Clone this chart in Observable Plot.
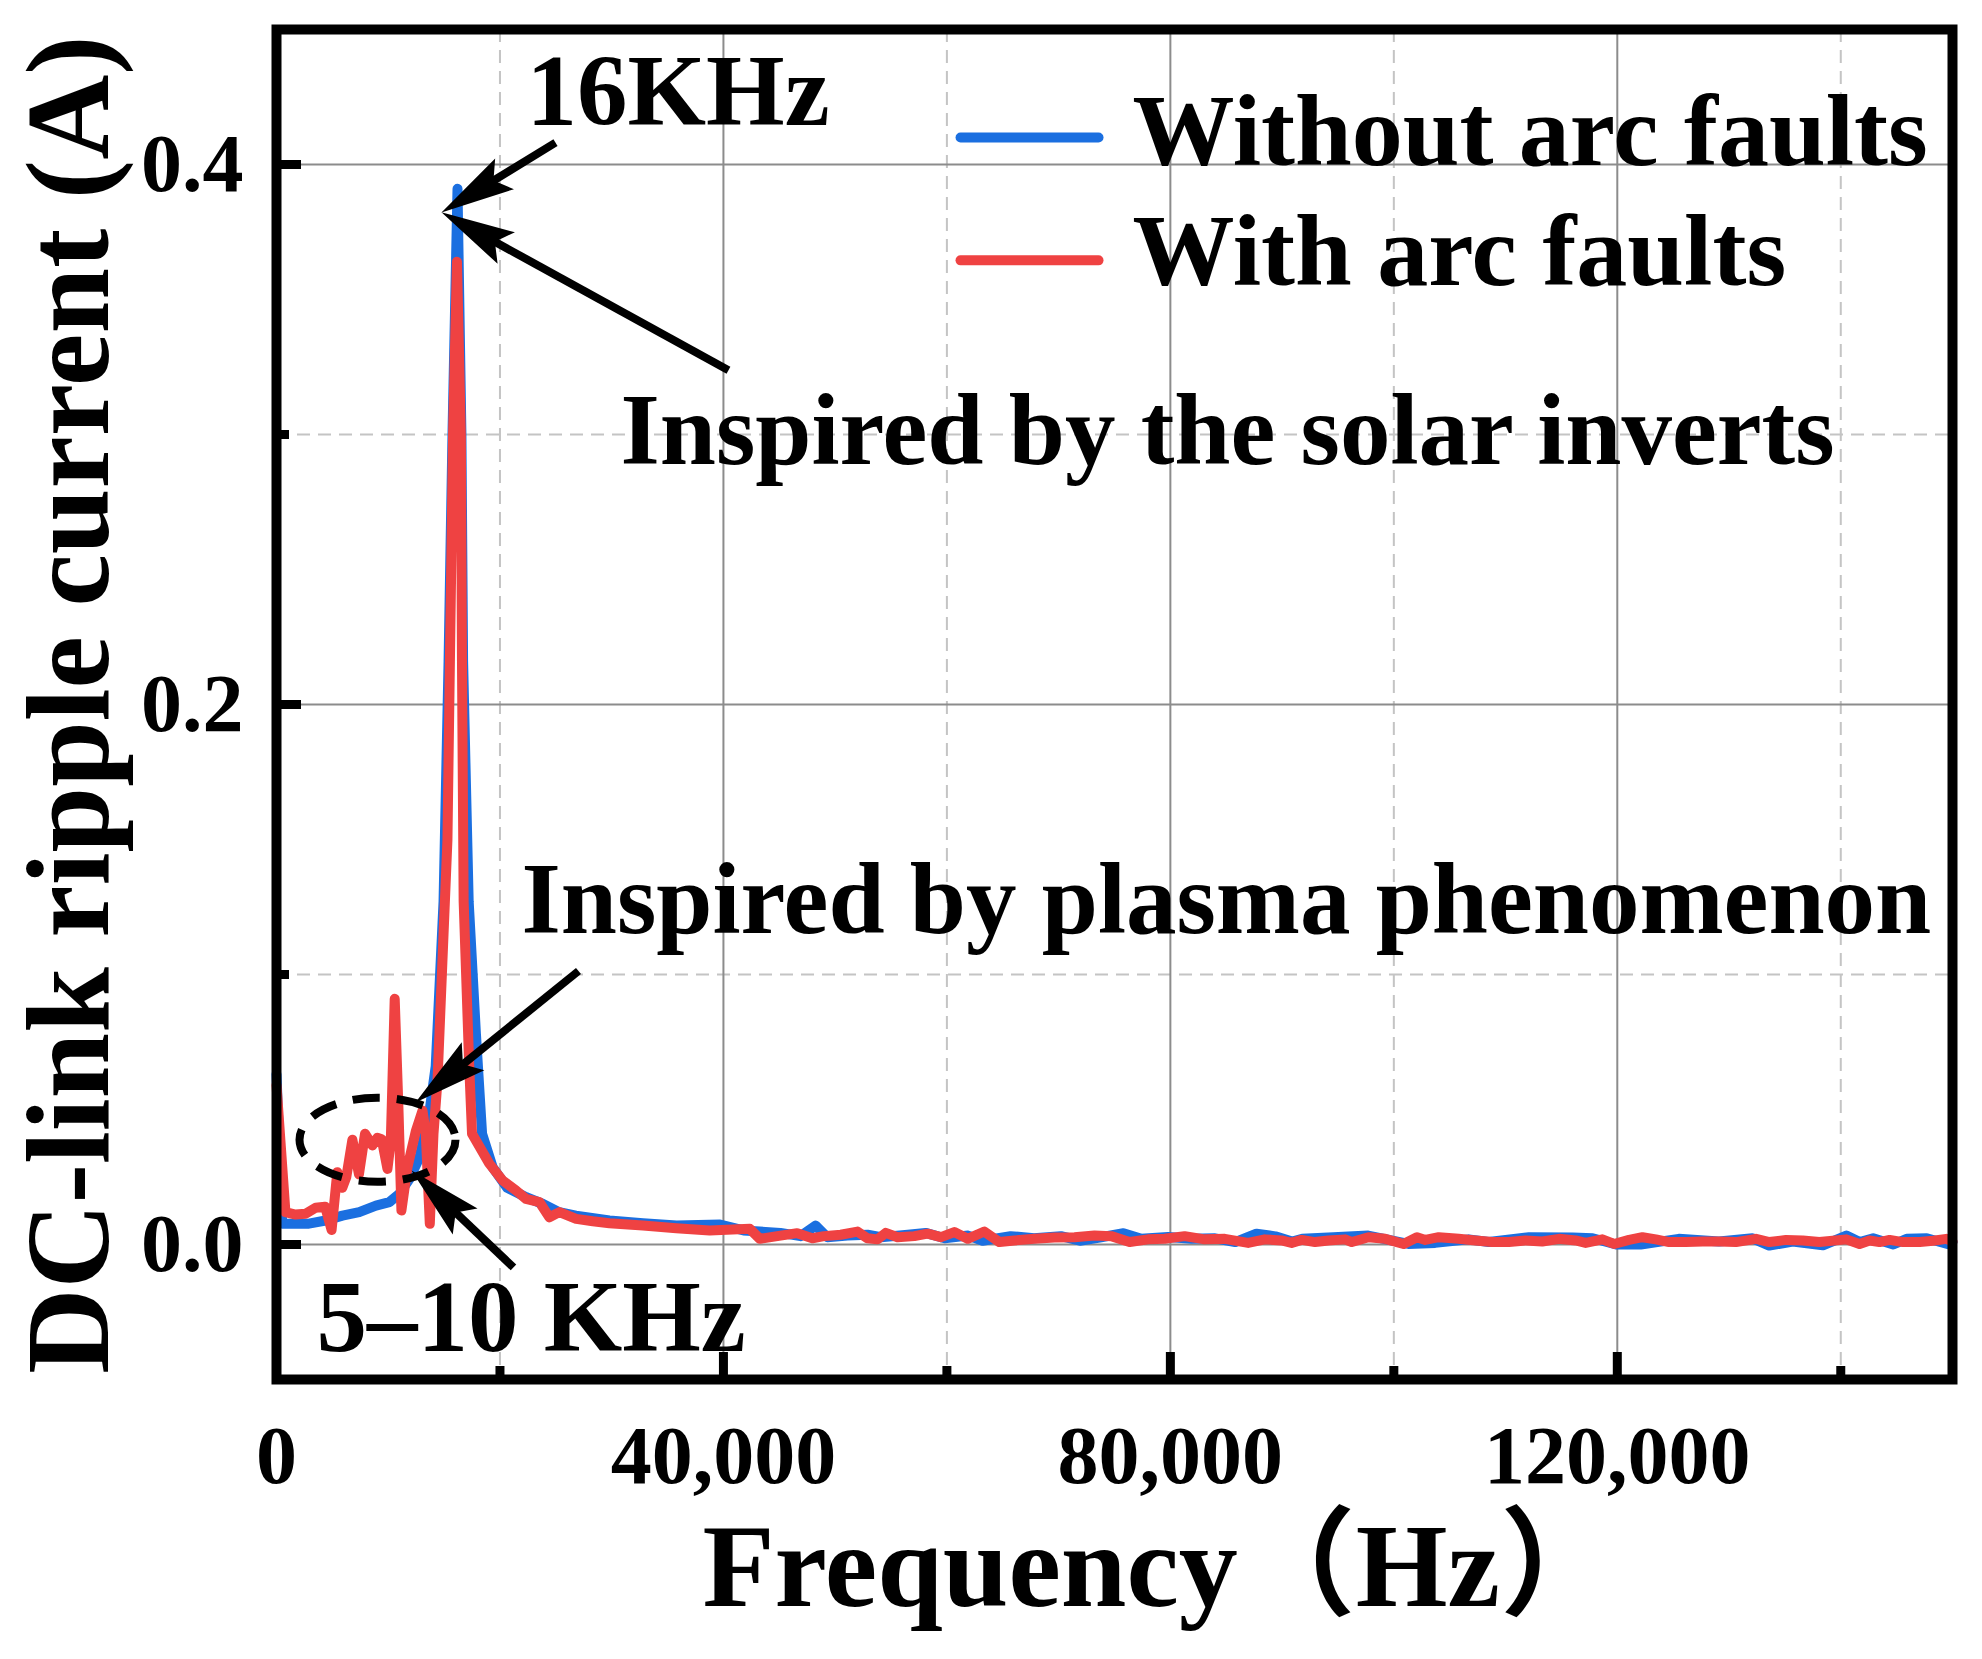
<!DOCTYPE html>
<html>
<head>
<meta charset="utf-8">
<script src="https://cdn.jsdelivr.net/npm/d3@7"></script>
<script src="https://cdn.jsdelivr.net/npm/@observablehq/plot@0.6"></script>
<style>
  body { margin: 0; background: #fff; }
  #chart svg { display: block; }
</style>
</head>
<body>
<div id="chart"></div>
<script>

// spectrum (Hz, A)
const freqBlue = [0, 510, 2900, 4400, 5900, 7400, 8900, 10100, 11000, 11900,
  12800, 13650, 14250, 14950, 15400, 15750, 16200, 16550, 16700, 17200,
  17850, 18400, 19350, 20650, 22350, 23850, 25300, 26800, 29800, 32800,
  35800, 39700, 41800, 45100, 46900, 48250, 49300, 51100, 52900, 54100,
  56500, 58100, 59800, 61900, 63200, 65700, 67800, 70200, 71900, 73800,
  75800, 77400, 79800, 81900, 84000, 85800, 87700, 89400, 90900, 91800,
  94600, 97700, 101300, 103700, 106700, 108500, 112100, 116000, 117800, 119900,
  122100, 125500, 129100, 132100, 133600, 135700, 138400, 140500, 141700, 142900,
  144700, 145900, 147700, 149700, 150000]
const ampBlue = [0.063, 0.0077, 0.0077, 0.0089, 0.0107, 0.012, 0.0144, 0.0157, 0.0188, 0.0243,
  0.0323, 0.048, 0.066, 0.127, 0.216, 0.300, 0.391, 0.300, 0.216, 0.127,
  0.078, 0.041, 0.0286, 0.021, 0.0175, 0.015, 0.012, 0.0107, 0.0089, 0.0079,
  0.007, 0.0074, 0.0052, 0.0043, 0.0031, 0.0070, 0.0027, 0.0033, 0.0036, 0.0027,
  0.0036, 0.0043, 0.0023, 0.0033, 0.0014, 0.0031, 0.0023, 0.0031, 0.0014, 0.0027,
  0.0042, 0.0021, 0.0028, 0.0021, 0.0023, 0.0009, 0.0040, 0.0030, 0.0011, 0.0021,
  0.0027, 0.0033, 0.0002, 0.0006, 0.0019, 0.0009, 0.0027, 0.0026, 0.0023, 0.0000,
  0.0000, 0.0021, 0.0011, 0.0023, -0.0004, 0.0011, -0.0003, 0.0033, 0.0009, 0.0023,
  0.0000, 0.0021, 0.0023, 0.0000, 0.0009]

const freqRed = [0, 800, 1700, 2600, 3500, 4350, 4930, 5440, 5890, 6250,
  6790, 7380, 7920, 8580, 9030, 9420, 9930, 10230, 10580, 10910,
  11180, 11720, 12470, 13070, 13360, 13720, 14050, 14410, 14850, 15300,
  15520, 15800, 16150, 16500, 16600, 16750, 17250, 17500, 19040, 20240,
  21440, 22330, 23530, 24420, 25320, 26820, 28310, 29800, 32800, 35790,
  38770, 42360, 43260, 45110, 46600, 47960, 49000, 50500, 52000, 52890,
  53790, 54530, 55580, 57080, 58270, 59470, 60660, 61860, 63350, 64700,
  66040, 67830, 69620, 71420, 73210, 74710, 76350, 78000, 79490, 81280,
  83070, 84870, 86960, 88450, 89950, 90850, 91750, 92950, 94150, 95640,
  96240, 97730, 99230, 100870, 102070, 102820, 104020, 105810, 107300, 108800,
  110290, 111790, 113280, 114780, 116270, 117170, 118660, 119710, 121050, 122250,
  123450, 124640, 126130, 127630, 129120, 130620, 132410, 133610, 135100, 136600,
  138090, 140490, 141680, 142580, 143470, 144370, 145570, 147060, 148260, 149450,
  150000]
const ampRed = [0.059, 0.012, 0.0111, 0.0114, 0.0136, 0.014, 0.0054, 0.0268, 0.021, 0.025,
  0.0388, 0.026, 0.041, 0.0367, 0.0395, 0.039, 0.028, 0.0385, 0.091, 0.051,
  0.0126, 0.0286, 0.042, 0.0496, 0.041, 0.0077, 0.041, 0.0607, 0.105, 0.15,
  0.216, 0.300, 0.364, 0.300, 0.216, 0.127, 0.066, 0.041, 0.030, 0.0237,
  0.020, 0.0169, 0.0157, 0.0101, 0.012, 0.0095, 0.0086, 0.0079, 0.007, 0.006,
  0.0052, 0.0058, 0.0021, 0.0033, 0.0042, 0.0023, 0.0031, 0.0036, 0.0048, 0.0023,
  0.0019, 0.0043, 0.0027, 0.0031, 0.0040, 0.0027, 0.0046, 0.0021, 0.0048, 0.0009,
  0.0015, 0.0021, 0.0026, 0.0027, 0.0033, 0.0031, 0.0009, 0.0019, 0.0021, 0.0031,
  0.0019, 0.0021, 0.0006, 0.0019, 0.0015, 0.0006, 0.0017, 0.0009, 0.0015, 0.0019,
  0.0009, 0.0027, 0.0021, 0.0002, 0.0027, 0.0017, 0.0027, 0.0021, 0.0015, 0.0009,
  0.0009, 0.0015, 0.0011, 0.0021, 0.0015, 0.0006, 0.0019, 0.0002, 0.0017, 0.0027,
  0.0019, 0.0009, 0.0009, 0.0011, 0.0011, 0.0009, 0.0021, 0.0009, 0.0017, 0.0015,
  0.0009, 0.0019, 0.0002, 0.0015, 0.0009, 0.0017, 0.0009, 0.0009, 0.0014, 0.0021,
  0.0011]

const seriesNames = ["Without arc faults", "With arc faults"]
const seriesColors = ["#1b6fe0", "#ef4242"]

const xMajor = [0, 40000, 80000, 120000]
const xMinor = [20000, 60000, 100000, 140000]
const yMajor = [0, 0.2, 0.4]
const yMinor = [0.1, 0.3]

// annotations, in data units
const noteText = ["16KHz", "Inspired by the solar inverts", "Inspired by plasma phenomenon", "5–10 KHz"]
const noteX = [22380, 30790, 21930, 3580]
const noteY = [0.4266, 0.3009, 0.1272, -0.0274]

const arrowX1 = [24970, 40450, 27030, 21210]
const arrowY1 = [0.4081, 0.3238, 0.1013, -0.0085]
const arrowX2 = [16290, 16330, 13830, 13380]
const arrowY2 = [0.3861, 0.3787, 0.0572, 0.0223]

const ellipseX = [9040]
const ellipseY = [0.0388]

const legendX1 = 61220, legendX2 = 73570, legendTextX = 76610
const legendLineY = [0.410, 0.3645]
const legendTextY = [0.412, 0.3673]

const blue = freqBlue.map((f, i) => ({f, a: ampBlue[i]}))
const red = freqRed.map((f, i) => ({f, a: ampRed[i]}))
const notes = noteText.map((t, i) => ({t, x: noteX[i], y: noteY[i]}))
const arrows = arrowX1.map((x1, i) => ({x1, y1: arrowY1[i], x2: arrowX2[i], y2: arrowY2[i]}))
const legend = seriesNames.map((name, i) => ({name, color: seriesColors[i], ly: legendLineY[i], ty: legendTextY[i]}))

const serif = "'Liberation Serif', 'Times New Roman', 'Noto Sans CJK SC', serif"

// dashed ellipse around the 5-10 kHz region
const ellipse = {
  draw(ctx) {
    const rx = 78, ry = 42, k = 0.5523
    ctx.moveTo(rx, 0)
    ctx.bezierCurveTo(rx, k * ry, k * rx, ry, 0, ry)
    ctx.bezierCurveTo(-k * rx, ry, -rx, k * ry, -rx, 0)
    ctx.bezierCurveTo(-rx, -k * ry, -k * rx, -ry, 0, -ry)
    ctx.bezierCurveTo(k * rx, -ry, rx, -k * ry, rx, 0)
    ctx.closePath()
  }
}

const W = 1982, H = 1659
const mL = 276, mR = 30, mT = 29, mB = H - 1379
const frameW = W - mL - mR, frameH = H - mT - mB

let chart = Plot.plot({
  width: W,
  height: H,
  marginLeft: mL,
  marginRight: mR,
  marginTop: mT,
  marginBottom: mB,
  style: {fontFamily: serif, background: "white"},

  x: {domain: [0, 150000], label: null},
  y: {domain: [-0.05, 0.45], label: null},

  marks: [
    Plot.ruleX(xMinor, {stroke: "#c4c4c4", strokeWidth: 2, strokeDasharray: "13,8"}),
    Plot.ruleY(yMinor, {stroke: "#c4c4c4", strokeWidth: 2, strokeDasharray: "13,8"}),
    Plot.ruleX(xMajor, {stroke: "#8c8c8c", strokeWidth: 2}),
    Plot.ruleY(yMajor, {stroke: "#8c8c8c", strokeWidth: 2}),

    Plot.line(blue, {x: "f", y: "a", stroke: seriesColors[0], strokeWidth: 10, strokeLinejoin: "round", strokeLinecap: "round"}),
    Plot.line(red, {x: "f", y: "a", stroke: seriesColors[1], strokeWidth: 10, strokeLinejoin: "round", strokeLinecap: "round"}),

    Plot.dot(ellipseX, {x: d => d, y: (d, i) => ellipseY[i], symbol: ellipse, fill: "none", stroke: "black", strokeWidth: 8, strokeDasharray: "27,17"}),

    Plot.link(arrows, {x1: "x1", y1: "y1", x2: "x2", y2: "y2", stroke: "black", strokeWidth: 8, markerEnd: "arrow"}),

    Plot.text(notes, {x: "x", y: "y", text: "t", textAnchor: "start", lineAnchor: "middle", fontSize: 101, fontWeight: "bold", fontFamily: serif, fill: "black"}),

    // legend
    Plot.link(legend, {x1: legendX1, x2: legendX2, y1: "ly", y2: "ly", stroke: "color", strokeWidth: 10, strokeLinecap: "round"}),
    Plot.text(legend, {x: legendTextX, y: "ty", text: "name", textAnchor: "start", lineAnchor: "middle", fontSize: 102, fontWeight: "bold", fontFamily: serif, fill: "black"}),

    // inside ticks
    Plot.ruleX(xMajor, {stroke: "black", strokeWidth: 9, insetTop: frameH - 27}),
    Plot.ruleX(xMinor, {stroke: "black", strokeWidth: 9, insetTop: frameH - 13}),
    Plot.ruleY(yMajor, {stroke: "black", strokeWidth: 9, insetRight: frameW - 25}),
    Plot.ruleY(yMinor, {stroke: "black", strokeWidth: 9, insetRight: frameW - 13}),

    Plot.frame({stroke: "black", strokeWidth: 10}),

    Plot.axisX(xMajor, {tickSize: 0, tickPadding: 45, tickFormat: d3.format(","), fontSize: 82, fontWeight: "bold", fontFamily: serif, label: null}),
    Plot.axisY(yMajor, {tickSize: 0, tickPadding: 33, tickFormat: d3.format(".1f"), fontSize: 82, fontWeight: "bold", fontFamily: serif, label: null}),

    Plot.text(["Frequency（Hz）"], {text: d => d, frameAnchor: "bottom", textAnchor: "start", lineAnchor: "middle", dx: -412, dy: 189, fontSize: 118, fontWeight: "bold", fontFamily: serif}),
    Plot.text(["DC-link ripple current (A)"], {text: d => d, frameAnchor: "left", textAnchor: "middle", lineAnchor: "middle", rotate: -90, dx: -206, fontSize: 118, fontWeight: "bold", fontFamily: serif})
  ]
})

// filled, notched arrowheads like the original figure
const svg = d3.select(chart)
svg.append("defs").append("marker")
  .attr("id", "fat-arrow")
  .attr("markerUnits", "userSpaceOnUse")
  .attr("viewBox", "-80 -20 100 40")
  .attr("markerWidth", 100)
  .attr("markerHeight", 40)
  .attr("refX", -20)
  .attr("refY", 0)
  .attr("orient", "auto")
  .append("path")
  .attr("d", "M0,0L-74,-18L-61,0L-74,18Z")
  .attr("fill", "black")
svg.selectAll("[marker-end]").attr("marker-end", "url(#fat-arrow)")

d3.select('#chart').append(() => chart)

</script>
</body>
</html>
